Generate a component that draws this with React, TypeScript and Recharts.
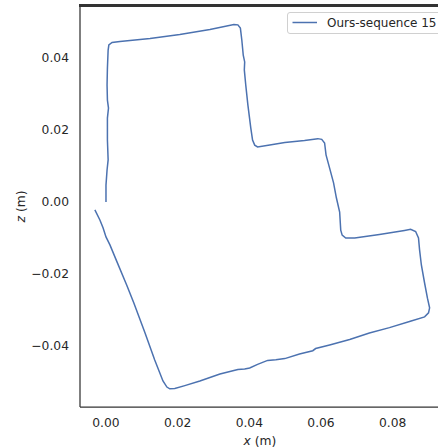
import React from 'react';
import { LineChart, Line, XAxis, YAxis } from 'recharts';

const seriesName = 'Ours-sequence 15';
const xs = [
  0.0, 0.0, 0.0003, 0.0006, 0.0004, 0.0004, 0.0007, 0.0004, 0.0003, 0.0004,
  0.0006, 0.0008, 0.0017, 0.0039, 0.0123, 0.0206, 0.029, 0.0357, 0.0368, 0.0375,
  0.0379, 0.0383, 0.0387, 0.0386, 0.039, 0.0396, 0.0404, 0.0409, 0.0415, 0.0423,
  0.0457, 0.0499, 0.0554, 0.0591, 0.0602, 0.061, 0.0614, 0.0624, 0.0635, 0.0643,
  0.0652, 0.0655, 0.0659, 0.0669, 0.0694, 0.0763, 0.0833, 0.085, 0.0864, 0.0872,
  0.0875, 0.088, 0.0889, 0.0897, 0.0903, 0.09, 0.0889, 0.0847, 0.0791, 0.0735,
  0.068, 0.0624, 0.0585, 0.0577, 0.054, 0.0499, 0.0474, 0.0451, 0.0423, 0.0401,
  0.0387, 0.0368, 0.0318, 0.0262, 0.022, 0.0192, 0.0178, 0.017, 0.0159, 0.0136,
  0.0109, 0.0078, 0.0058, 0.0031, 0.0011, 0.0, -0.0008, -0.0017, -0.0031,
];
const zs = [
  0.0, 0.0047, 0.0089, 0.0117, 0.0172, 0.0233, 0.0261, 0.0283, 0.0325, 0.0372,
  0.0422, 0.0436, 0.0443, 0.0446, 0.0454, 0.0465, 0.0479, 0.0493, 0.0492, 0.0483,
  0.045, 0.0408, 0.0389, 0.0367, 0.0325, 0.0269, 0.0206, 0.0172, 0.0158, 0.0153,
  0.0158, 0.0165, 0.0171, 0.0176, 0.0174, 0.0164, 0.0131, 0.0094, 0.0053, 0.0011,
  -0.0028, -0.0078, -0.0092, -0.01, -0.01, -0.009, -0.0079, -0.0076, -0.0082, -0.01,
  -0.0133, -0.0175, -0.0225, -0.0267, -0.0294, -0.0308, -0.0319, -0.0332, -0.0349, -0.0364,
  -0.0382, -0.0397, -0.0407, -0.0413, -0.0422, -0.0435, -0.0438, -0.044, -0.0451, -0.0461,
  -0.0464, -0.0465, -0.0478, -0.0497, -0.051, -0.0518, -0.0519, -0.0514, -0.0497, -0.0439,
  -0.0364, -0.0281, -0.0231, -0.0167, -0.0119, -0.0097, -0.0072, -0.005, -0.0022,
];
const xTicks = [0, 0.02, 0.04, 0.06, 0.08];
const yTicks = [-0.04, -0.02, 0, 0.02, 0.04];
const xDomain = [-0.00725, 0.0932];
const yDomain = [-0.05694, 0.05444];

const data = xs.map((x, i) => ({ x, z: zs[i] }));

const FONT = 'DejaVu Sans';
const TXT = '#262626';
const SPINE = '#333333';
const BLUE = '#4C72B0';
const FS = 12.3;

const fmt = (v: number) => {
  const s = Math.abs(v).toFixed(2);
  return v < -1e-9 ? '\u2212' + s : s;
};

const XLabel = (props: any) => {
  const vb = props.viewBox || { x: 80, width: 360 };
  const cx = vb.x + vb.width / 2;
  return (
    <text x={cx} y={441} textAnchor="middle" dominantBaseline="central" fill={TXT} fontFamily={FONT} fontSize={FS}>
      <tspan fontStyle="italic">x</tspan> (m)
    </text>
  );
};

const YLabel = (props: any) => {
  const vb = props.viewBox || { y: 6, height: 401 };
  const cy = vb.y + vb.height / 2;
  return (
    <text x={21} y={cy} transform={`rotate(-90, 21, ${cy})`} textAnchor="middle" dominantBaseline="central" fill={TXT} fontFamily={FONT} fontSize={FS}>
      <tspan fontStyle="italic">z</tspan> (m)
    </text>
  );
};

export default function App() {
  const tickStyle = { fill: TXT, fontFamily: FONT, fontSize: FS };
  return (
    <div style={{ position: 'absolute', left: 0, top: 0, width: 438, height: 448, overflow: 'hidden', background: '#fff' }}>
      <LineChart width={460} height={448} data={data} margin={{ top: 6, right: 20, bottom: 0, left: 0 }}>
        <XAxis
          type="number"
          dataKey="x"
          domain={xDomain}
          allowDataOverflow
          ticks={xTicks}
          tickFormatter={fmt}
          tickLine={false}
          tickMargin={5}
          height={41}
          axisLine={{ stroke: SPINE, strokeWidth: 1.25 }}
          tick={tickStyle}
          label={<XLabel />}
        />
        <YAxis
          type="number"
          dataKey="z"
          domain={yDomain}
          allowDataOverflow
          ticks={yTicks}
          tickFormatter={fmt}
          tickLine={false}
          tickMargin={5}
          width={80}
          axisLine={{ stroke: SPINE, strokeWidth: 1.25 }}
          tick={tickStyle}
          label={<YLabel />}
        />
        <Line
          type="linear"
          dataKey="z"
          name={seriesName}
          stroke={BLUE}
          strokeWidth={1.5}
          dot={false}
          isAnimationActive={false}
        />
      </LineChart>
      <div style={{ position: 'absolute', zIndex: 5, left: 79, top: 4, width: 362, height: 3, background: SPINE }} />
      <div
        style={{
          position: 'absolute',
          zIndex: 6,
          left: 287,
          top: 12,
          width: 160,
          height: 22,
          border: '1px solid #d0d0d0',
          borderRadius: 3,
          background: 'rgba(255,255,255,0.85)',
          fontFamily: FONT,
          fontSize: 12,
          color: TXT,
          boxSizing: 'border-box',
        }}
      >
        <svg width={30} height={20} style={{ position: 'absolute', left: 3, top: 0 }}>
          <line x1={1.5} y1={9.5} x2={26} y2={9.5} stroke={BLUE} strokeWidth={1.5} />
        </svg>
        <span style={{ position: 'absolute', left: 39, top: 2, lineHeight: '16px', whiteSpace: 'nowrap' }}>{seriesName}</span>
      </div>
    </div>
  );
}
